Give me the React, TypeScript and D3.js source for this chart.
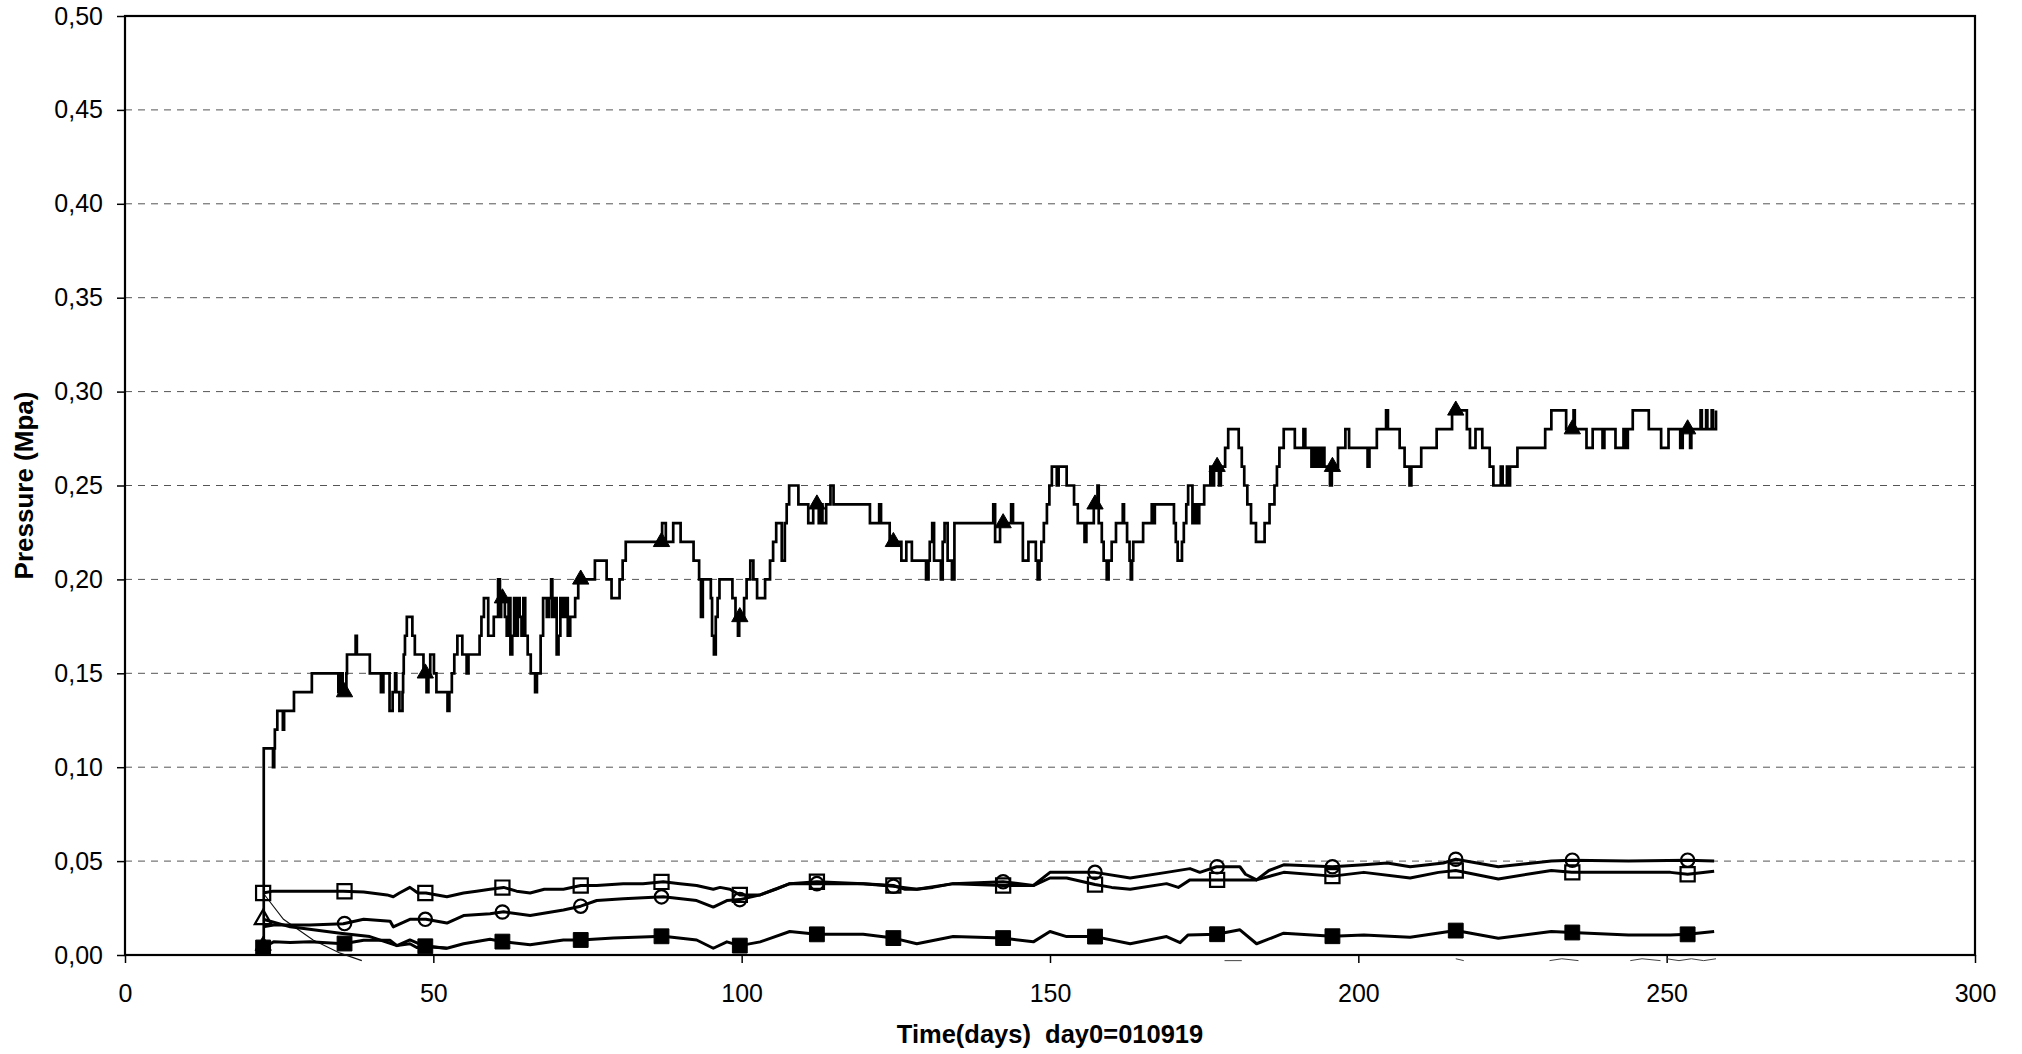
import { useEffect, useRef } from 'react';
import * as d3 from 'd3';

// axis ticks
const xTicks = [0, 50, 100, 150, 200, 250, 300];
const yTicks = [0, 0.05, 0.1, 0.15, 0.2, 0.25, 0.3, 0.35, 0.4, 0.45, 0.5];

// days where the markers sit (every series shares them)
const markerDays = [22.4, 35.6, 48.7, 61.2, 73.9, 87.0, 99.7, 112.2, 124.6, 142.4, 157.3, 177.1, 195.8, 215.8, 234.7, 253.4];

// main pressure record (filled triangles), stepped at 0.01 MPa
const mainSteps: [number, number][] = [
  [22.4, 0.005], [22.5, 0.11], [24.0, 0.10], [24.2, 0.11], [24.3, 0.12], [24.7, 0.13], [25.6, 0.12], [25.8, 0.13], [27.4, 0.14], [30.3, 0.15],
  [34.6, 0.14], [35.0, 0.15], [35.3, 0.14], [35.9, 0.15], [36.0, 0.16], [37.4, 0.17], [37.6, 0.16], [39.7, 0.15], [41.5, 0.14], [41.9, 0.15],
  [42.9, 0.13], [43.4, 0.14], [43.8, 0.15], [44.0, 0.14], [44.5, 0.13], [45.0, 0.14], [45.1, 0.15], [45.2, 0.16], [45.4, 0.17], [45.7, 0.18],
  [46.6, 0.17], [47.0, 0.16], [48.4, 0.15], [48.9, 0.14], [49.2, 0.15], [49.5, 0.16], [50.1, 0.15], [50.5, 0.14], [52.3, 0.13], [52.6, 0.14],
  [53.0, 0.15], [53.4, 0.16], [53.9, 0.17], [54.7, 0.16], [55.4, 0.15], [55.7, 0.16], [57.5, 0.17], [57.8, 0.18], [58.2, 0.19], [58.9, 0.17],
  [59.8, 0.18], [60.5, 0.20], [60.8, 0.18], [61.0, 0.19], [61.6, 0.18], [61.9, 0.17], [62.2, 0.19], [62.5, 0.16], [62.8, 0.17], [63.1, 0.19],
  [63.4, 0.17], [63.7, 0.19], [64.0, 0.18], [64.3, 0.17], [64.6, 0.19], [64.9, 0.17], [65.3, 0.16], [65.8, 0.15], [66.5, 0.14], [66.8, 0.15],
  [67.4, 0.17], [67.8, 0.19], [68.4, 0.18], [68.8, 0.19], [69.1, 0.20], [69.3, 0.18], [69.7, 0.19], [70.0, 0.16], [70.3, 0.17], [70.6, 0.19],
  [71.0, 0.18], [71.4, 0.19], [71.8, 0.17], [72.2, 0.18], [73.0, 0.19], [73.5, 0.20], [76.2, 0.21], [78.1, 0.20], [78.9, 0.19], [80.2, 0.20],
  [80.7, 0.21], [81.2, 0.22], [87.1, 0.23], [87.7, 0.22], [88.9, 0.23], [90.1, 0.22], [92.2, 0.21], [93.1, 0.20], [93.4, 0.18], [93.7, 0.20],
  [95.0, 0.19], [95.2, 0.17], [95.5, 0.16], [95.8, 0.18], [96.1, 0.19], [96.4, 0.20], [98.5, 0.19], [99.0, 0.18], [99.4, 0.17], [99.6, 0.18],
  [100.4, 0.19], [100.8, 0.20], [101.4, 0.21], [101.9, 0.20], [102.5, 0.19], [103.8, 0.20], [104.6, 0.21], [105.1, 0.22], [105.6, 0.23], [106.5, 0.21],
  [107.0, 0.23], [107.3, 0.24], [107.7, 0.25], [109.2, 0.24], [110.8, 0.23], [111.6, 0.24], [112.5, 0.23], [112.8, 0.24], [113.1, 0.23], [113.7, 0.24],
  [114.4, 0.25], [114.9, 0.24], [120.8, 0.23], [122.3, 0.24], [122.6, 0.23], [124.0, 0.22], [125.9, 0.21], [126.7, 0.22], [127.6, 0.21], [129.9, 0.20],
  [130.3, 0.21], [130.5, 0.22], [130.9, 0.23], [131.2, 0.21], [132.3, 0.20], [132.6, 0.22], [132.9, 0.23], [133.4, 0.21], [134.1, 0.20], [134.5, 0.23],
  [140.8, 0.24], [141.1, 0.22], [141.9, 0.23], [143.7, 0.24], [144.0, 0.23], [145.6, 0.21], [146.5, 0.22], [147.7, 0.21], [148.0, 0.20], [148.3, 0.21],
  [148.6, 0.22], [149.0, 0.23], [149.5, 0.24], [149.9, 0.25], [150.3, 0.26], [151.1, 0.25], [151.4, 0.26], [152.7, 0.25], [153.9, 0.24], [154.5, 0.23],
  [155.6, 0.22], [155.9, 0.23], [157.1, 0.24], [157.7, 0.25], [157.9, 0.23], [158.4, 0.22], [158.7, 0.21], [159.2, 0.20], [159.5, 0.21], [160.0, 0.22],
  [160.7, 0.23], [161.8, 0.24], [162.0, 0.23], [162.5, 0.22], [162.9, 0.21], [163.1, 0.20], [163.3, 0.21], [163.5, 0.22], [165.1, 0.23], [166.5, 0.24],
  [166.8, 0.23], [167.0, 0.24], [170.1, 0.23], [170.4, 0.22], [170.7, 0.21], [171.4, 0.22], [171.7, 0.23], [172.1, 0.24], [172.4, 0.25], [173.1, 0.23],
  [173.5, 0.24], [173.8, 0.23], [174.2, 0.24], [175.0, 0.25], [176.0, 0.26], [176.3, 0.25], [176.6, 0.26], [177.4, 0.25], [177.7, 0.26], [178.4, 0.27],
  [178.9, 0.28], [180.6, 0.27], [181.1, 0.26], [181.5, 0.25], [182.0, 0.24], [182.6, 0.23], [183.4, 0.22], [184.8, 0.23], [185.6, 0.24], [186.4, 0.25],
  [186.8, 0.26], [187.2, 0.27], [187.9, 0.28], [189.7, 0.27], [191.1, 0.28], [191.4, 0.27], [192.4, 0.26], [192.8, 0.27], [193.1, 0.26], [193.5, 0.27],
  [193.8, 0.26], [194.2, 0.27], [194.5, 0.26], [195.4, 0.25], [195.7, 0.26], [196.7, 0.27], [197.9, 0.28], [198.5, 0.27], [201.5, 0.26], [201.8, 0.27],
  [203.0, 0.28], [204.5, 0.29], [204.8, 0.28], [206.7, 0.27], [207.5, 0.26], [208.3, 0.25], [208.6, 0.26], [210.2, 0.27], [212.7, 0.28], [215.2, 0.29],
  [217.6, 0.28], [218.1, 0.27], [219.0, 0.28], [220.1, 0.27], [221.3, 0.26], [221.9, 0.25], [223.1, 0.26], [223.4, 0.25], [224.1, 0.26], [224.4, 0.25],
  [224.6, 0.26], [225.8, 0.27], [230.3, 0.28], [231.3, 0.29], [233.7, 0.28], [234.9, 0.29], [235.1, 0.28], [237.0, 0.27], [238.0, 0.28], [239.6, 0.27],
  [239.9, 0.28], [241.7, 0.27], [243.0, 0.28], [243.4, 0.27], [243.7, 0.28], [244.5, 0.29], [247.1, 0.28], [249.1, 0.27], [250.3, 0.28], [252.2, 0.27],
  [252.6, 0.28], [253.8, 0.27], [254.0, 0.28], [255.5, 0.29], [255.7, 0.28], [256.4, 0.29], [256.6, 0.28], [257.3, 0.29], [257.5, 0.28], [258.0, 0.29],
];

// open squares
const openSquare: [number, number][] = [
  [22.4, 0.033], [24.0, 0.034], [26.8, 0.034], [30.0, 0.034], [35.4, 0.034], [38.7, 0.0335], [42.5, 0.032], [43.5, 0.031], [44.5, 0.033], [46.2, 0.036],
  [47.5, 0.033], [48.8, 0.033], [52.2, 0.031], [54.9, 0.033], [57.0, 0.034], [59.2, 0.035], [61.4, 0.036], [63.5, 0.034], [65.7, 0.033], [68.0, 0.035],
  [71.1, 0.035], [73.9, 0.037], [76.5, 0.037], [80.8, 0.038], [84.0, 0.038], [87.3, 0.039], [90.0, 0.038], [92.7, 0.037], [95.4, 0.035], [96.5, 0.036],
  [98.1, 0.035], [99.7, 0.032], [103.0, 0.032], [105.5, 0.035], [107.8, 0.038], [112.2, 0.039], [119.7, 0.038], [124.6, 0.037], [126.5, 0.035], [128.4, 0.035],
  [131.0, 0.036], [134.3, 0.038], [142.4, 0.037], [147.3, 0.037], [150.0, 0.041], [152.7, 0.041], [157.3, 0.0375], [160.0, 0.036], [163.0, 0.035], [168.9, 0.038],
  [170.8, 0.036], [172.7, 0.040], [177.0, 0.040], [183.5, 0.040], [187.9, 0.044], [195.8, 0.042], [200.9, 0.044], [208.4, 0.041], [213.0, 0.044], [215.8, 0.045],
  [222.7, 0.0405], [231.3, 0.045], [234.6, 0.044], [243.8, 0.044], [250.6, 0.044], [253.4, 0.043], [257.7, 0.0446],
];

// open circles
const openCircle: [number, number][] = [
  [22.4, 0.015], [24.1, 0.016], [30.0, 0.016], [35.4, 0.0166], [38.7, 0.019], [43.0, 0.018], [43.5, 0.015], [46.2, 0.019], [48.8, 0.019], [52.2, 0.017],
  [54.9, 0.021], [59.2, 0.022], [61.4, 0.023], [65.7, 0.021], [71.1, 0.024], [73.9, 0.026], [76.5, 0.029], [80.8, 0.030], [87.3, 0.031], [92.7, 0.029],
  [95.4, 0.0255], [97.6, 0.029], [99.7, 0.0295], [103.0, 0.032], [107.8, 0.038], [112.2, 0.038], [119.7, 0.038], [124.6, 0.0366], [128.4, 0.035], [134.3, 0.038],
  [142.4, 0.039], [147.3, 0.037], [150.0, 0.044], [152.7, 0.044], [157.3, 0.044], [163.0, 0.041], [168.9, 0.044], [172.7, 0.046], [174.3, 0.044], [177.0, 0.047],
  [180.8, 0.047], [181.7, 0.043], [183.5, 0.040], [185.5, 0.045], [187.9, 0.048], [195.8, 0.047], [200.9, 0.048], [204.7, 0.049], [208.4, 0.047], [213.8, 0.049],
  [215.8, 0.051], [222.7, 0.047], [231.3, 0.050], [234.6, 0.0505], [243.8, 0.050], [253.4, 0.0505], [257.7, 0.050],
];

// filled squares
const filledSquare: [number, number][] = [
  [22.4, 0.004], [24.1, 0.007], [26.8, 0.0066], [30.0, 0.007], [35.4, 0.006], [38.7, 0.0078], [43.0, 0.0078], [44.1, 0.005], [46.2, 0.008], [48.8, 0.0045],
  [52.2, 0.0036], [54.9, 0.006], [59.2, 0.0084], [61.4, 0.007], [65.7, 0.0055], [71.1, 0.008], [73.9, 0.008], [79.2, 0.009], [87.3, 0.010], [92.7, 0.008],
  [95.4, 0.0036], [97.6, 0.007], [99.7, 0.005], [103.0, 0.007], [107.8, 0.0125], [112.2, 0.011], [119.7, 0.011], [124.6, 0.009], [128.4, 0.006], [134.3, 0.0098],
  [142.4, 0.009], [147.3, 0.007], [150.0, 0.0125], [152.7, 0.0098], [157.3, 0.0098], [163.0, 0.006], [168.9, 0.0098], [171.1, 0.0066], [172.4, 0.0107], [177.0, 0.011],
  [180.8, 0.0134], [183.5, 0.006], [187.9, 0.0116], [195.8, 0.010], [200.9, 0.0107], [208.4, 0.0095], [215.8, 0.013], [222.7, 0.0089], [231.3, 0.0125], [234.6, 0.012],
  [243.8, 0.0107], [250.6, 0.0107], [253.4, 0.011], [257.7, 0.0125],
];

// open triangle, dies away after a few weeks
const openTriangle: [number, number][] = [
  [22.4, 0.019], [26.8, 0.015], [34.9, 0.0116], [39.7, 0.0098], [44.1, 0.005], [46.2, 0.006], [47.3, 0.004], [49.5, 0.0045], [52.2, 0.0036],
];

// thin unmarked line falling from the first square
const thinDecay: [number, number][] = [
  [22.4, 0.033], [25.7, 0.019], [30.5, 0.008], [34.9, 0.001], [38.4, -0.003],
];

// scraps dipping just under the axis
const belowAxis: [number, number][][] = [
  [[178.3, -0.003], [181.1, -0.003]],
  [[215.8, -0.002], [217.1, -0.003]],
  [[231.0, -0.003], [233.0, -0.002], [235.7, -0.003]],
  [[244.1, -0.003], [246.0, -0.002], [249.0, -0.003]],
  [[250.0, -0.002], [252.0, -0.003], [254.0, -0.002], [256.0, -0.003], [258.0, -0.002]],
];

const FONT = "'Liberation Sans', Arial, sans-serif";

export default function App() {
  const svgRef = useRef<SVGSVGElement>(null);

  useEffect(() => {
    if (!svgRef.current) return;
    const svg = d3.select(svgRef.current);
    svg.selectAll('*').remove();

    const x = d3.scaleLinear().domain([0, 300]).range([125, 1975]);
    const y = d3.scaleLinear().domain([0, 0.5]).range([955, 16]);

    const comma = d3.formatLocale({ decimal: ',', thousands: '.', grouping: [3], currency: ['', ''] });
    const fmt = comma.format('.2f');

    // dashed gridlines
    svg.append('g')
      .selectAll('line')
      .data(yTicks.filter(t => t > 0 && t < 0.5))
      .join('line')
      .attr('x1', x(0)).attr('x2', x(300))
      .attr('y1', d => y(d)).attr('y2', d => y(d))
      .attr('stroke', '#555')
      .attr('stroke-width', 1)
      .attr('stroke-dasharray', '7,6');

    // axes
    const yAxis = svg.append('g')
      .attr('transform', `translate(${x(0)},0)`)
      .call(d3.axisLeft(y).tickValues(yTicks).tickSize(8).tickPadding(14).tickFormat(d => fmt(d as number)));
    const xAxis = svg.append('g')
      .attr('transform', `translate(0,${y(0)})`)
      .call(d3.axisBottom(x).tickValues(xTicks).tickSize(8).tickPadding(21).tickFormat(d3.format('d')));

    [yAxis, xAxis].forEach(ax => {
      ax.select('.domain').remove();
      ax.selectAll('line').attr('stroke', '#000').attr('stroke-width', 1.5);
      ax.selectAll('text').attr('font-family', FONT).attr('font-size', 25).attr('fill', '#000');
    });

    // plot frame
    svg.append('rect')
      .attr('x', x(0)).attr('y', y(0.5))
      .attr('width', x(300) - x(0)).attr('height', y(0) - y(0.5))
      .attr('fill', 'none')
      .attr('stroke', '#000')
      .attr('stroke-width', 2.2);

    const lineLin = d3.line<[number, number]>().x(d => x(d[0])).y(d => y(d[1]));
    const lineStep = d3.line<[number, number]>().x(d => x(d[0])).y(d => y(d[1])).curve(d3.curveStepAfter);

    // value of a series at a given day
    const atLin = (s: [number, number][], day: number) => {
      const i = d3.bisector((p: [number, number]) => p[0]).left(s, day);
      if (i <= 0) return s[0][1];
      if (i >= s.length) return s[s.length - 1][1];
      const a = s[i - 1], b = s[i];
      return a[1] + (b[1] - a[1]) * (day - a[0]) / (b[0] - a[0]);
    };
    const atStep = (s: [number, number][], day: number) => {
      const i = d3.bisector((p: [number, number]) => p[0]).right(s, day) - 1;
      return s[Math.max(0, i)][1];
    };

    const g = svg.append('g');

    // thin pieces
    g.append('path').attr('d', lineLin(thinDecay)).attr('fill', 'none').attr('stroke', '#111').attr('stroke-width', 1.1);
    belowAxis.forEach(seg => {
      g.append('path').attr('d', lineLin(seg)).attr('fill', 'none').attr('stroke', '#444').attr('stroke-width', 1);
    });

    // low series lines
    [openTriangle, filledSquare, openCircle, openSquare].forEach(s => {
      g.append('path')
        .attr('d', lineLin(s))
        .attr('fill', 'none')
        .attr('stroke', '#000')
        .attr('stroke-width', 3)
        .attr('stroke-linejoin', 'round');
    });

    // main stepped line
    g.append('path')
      .attr('d', lineStep(mainSteps))
      .attr('fill', 'none')
      .attr('stroke', '#000')
      .attr('stroke-width', 2.7);

    const addMarkers = (
      pts: [number, number][],
      type: d3.SymbolType,
      size: number,
      filled: boolean,
    ) => {
      g.append('g')
        .selectAll('path')
        .data(pts)
        .join('path')
        .attr('transform', d => `translate(${x(d[0])},${y(d[1])})`)
        .attr('d', d3.symbol().type(type).size(size)())
        .attr('fill', filled ? '#000' : 'none')
        .attr('stroke', '#000')
        .attr('stroke-width', filled ? 1 : 2.2);
    };

    addMarkers([[openTriangle[0][0], openTriangle[0][1]]], d3.symbolTriangle, 120, false);
    addMarkers(markerDays.map(d => [d, atLin(openSquare, d)] as [number, number]), d3.symbolSquare, 200, false);
    addMarkers(markerDays.slice(1).map(d => [d, atLin(openCircle, d)] as [number, number]), d3.symbolCircle, 140, false);
    addMarkers(markerDays.map(d => [d, atLin(filledSquare, d)] as [number, number]), d3.symbolSquare, 220, true);
    addMarkers(markerDays.map(d => [d, atStep(mainSteps, d)] as [number, number]), d3.symbolTriangle, 115, true);

    // axis titles
    svg.append('text')
      .attr('transform', `translate(24,${(y(0) + y(0.5)) / 2}) rotate(-90)`)
      .attr('text-anchor', 'middle')
      .attr('dy', '0.35em')
      .attr('font-family', FONT)
      .attr('font-weight', 'bold')
      .attr('font-size', 26)
      .text('Pressure (Mpa)');

    svg.append('text')
      .attr('x', (x(0) + x(300)) / 2)
      .attr('y', 1043)
      .attr('text-anchor', 'middle')
      .attr('font-family', FONT)
      .attr('font-weight', 'bold')
      .attr('font-size', 25.5)
      .attr('xml:space', 'preserve')
      .style('white-space', 'pre')
      .text('Time(days)  day0=010919');
  }, []);

  return (
    <svg
      ref={svgRef}
      width={2022}
      height={1054}
      style={{ position: 'absolute', left: 0, top: 0, background: '#fff', display: 'block' }}
    />
  );
}
